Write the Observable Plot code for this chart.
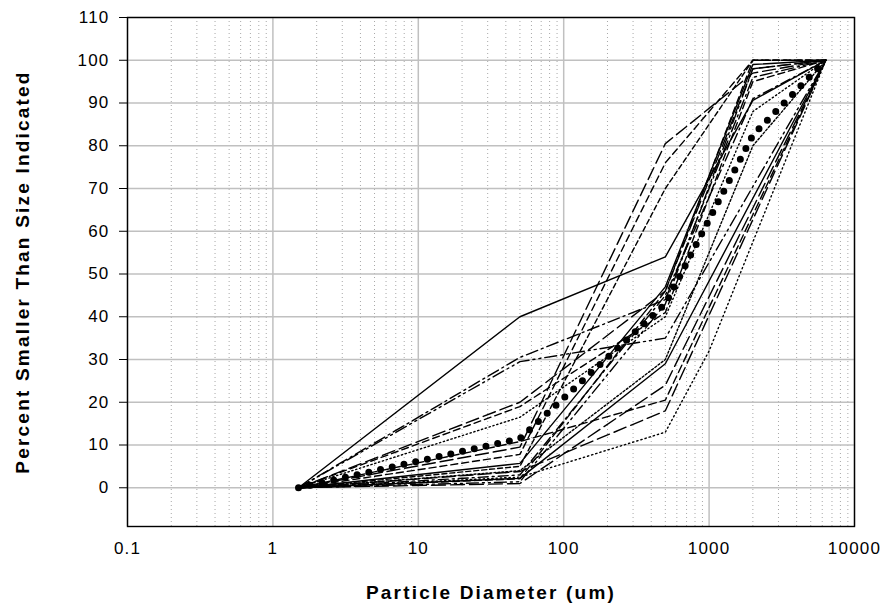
<!DOCTYPE html>
<html>
<head>
<meta charset="utf-8">
<script src="https://cdn.jsdelivr.net/npm/d3@7"></script>
<script src="https://cdn.jsdelivr.net/npm/@observablehq/plot@0.6"></script>
<style>
  html, body { margin: 0; padding: 0; background: #fff; }
  svg text { letter-spacing: 1.2px; }
  svg .title text { letter-spacing: 2.2px; }
</style>
</head>
<body>
<div id="chart"></div>
<script>
// ---- data ----
const sizes = [1.5, 50, 500, 1000, 2000, 6350];      // particle diameter (um); null = not measured
const sample01 = [0, 40.0, 54.0, null, 90.6, 100];
const sample02 = [0, 30.5, 44.0, null, 96.0, 100];
const sample03 = [0, 29.5, 35.0, null, null, 100];
const sample04 = [0, 20.0, 46.0, null, 98.0, 100];
const sample05 = [0, 19.0, 41.0, null, 95.0, 100];
const sample06 = [0, 16.5, 40.0, null, 88.0, 100];
const sample07 = [0, 9.5, 80.5, null, 97.0, 100];
const sample08 = [0, 7.8, 76.0, null, 100.0, 100];
const sample09 = [0, 5.7, 47.0, null, 99.0, 100];
const sample10 = [0, 5.0, 70.0, null, 100.0, 100];
const sample11 = [0, 2.2, 29.0, null, null, 100];
const sample12 = [0, 10.8, 20.5, null, null, 100];
const sample13 = [0, 3.8, 18.0, null, null, 100];
const sample14 = [0, 2.5, 13.0, 32.0, null, 100];
const sample15 = [0, 3.0, 45.0, null, 91.0, 100];
const sample16 = [0, 1.4, 43.0, null, 98.0, 100];
const sample17 = [0, 2.1, 46.0, null, 100.0, 100];
const sample18 = [0, 4.0, 30.0, null, 80.0, 100];
const sample19 = [0, 1.0, 24.0, null, null, 100];
const meanCurve = [0, 11.5, 43.0, null, 82.5, 100];

const xTicks = [0.1, 1, 10, 100, 1000, 10000];
const xTickLabels = ["0.1", "1", "10", "100", "1000", "10000"];
const yTicks = [0, 10, 20, 30, 40, 50, 60, 70, 80, 90, 100, 110];
const xTitle = "Particle Diameter (um)";
const yTitle = "Percent Smaller Than Size Indicated";

// ---- styles (kept apart from the data) ----
const samples = [sample01, sample02, sample03, sample04, sample05, sample06, sample07, sample08, sample09,
                 sample10, sample11, sample12, sample13, sample14, sample15, sample16, sample17, sample18, sample19];
const sampleDash = [null, "12,4,2,4", "12,4,2,4,2,4", "13,5", "7,4", "1.3,2.7", "13,5", "7,4", null,
                    "5,3", null, "8,4", "13,5", "1.3,3", "10,4,2,4", "12,4,2,4,2,4", "7,4", "2,2", "14,5"];

const toRows = vals => vals.map((v, i) => ({size: sizes[i], pct: v})).filter(r => r.pct != null);

const minorX = [];
for (const dec of [0.1, 1, 10, 100, 1000]) for (let k = 2; k <= 9; k++) minorX.push(+(dec * k).toPrecision(3));

const marks = [
  Plot.ruleX(minorX, {stroke: "#a8a8a8", strokeWidth: 1, strokeDasharray: "1,3"}),
  Plot.ruleX(xTicks, {stroke: "#c0c0c0", strokeWidth: 1.5}),
  Plot.ruleY(yTicks, {stroke: "#c0c0c0", strokeWidth: 1.5}),
];
samples.forEach((vals, s) => {
  marks.push(Plot.line(toRows(vals), {
    x: "size", y: "pct", stroke: "black", strokeWidth: 1.4,
    strokeDasharray: sampleDash[s] || undefined, strokeLinejoin: "miter"
  }));
});
marks.push(Plot.line(toRows(meanCurve), {x: "size", y: "pct", stroke: "black", strokeWidth: 7,
  strokeDasharray: "0,12", strokeLinecap: "round"}));
marks.push(Plot.frame({stroke: "black", strokeWidth: 1.4}));
marks.push(Plot.axisY({ticks: yTicks, tickSize: 8, tickPadding: 10, label: null, fontSize: 17}));
marks.push(Plot.axisX({ticks: xTicks, tickSize: 0, tickPadding: 15, label: null, fontSize: 17,
  tickFormat: d => xTickLabels[xTicks.indexOf(d)]}));
marks.push(Plot.text([xTitle], {frameAnchor: "bottom", dy: 66, lineAnchor: "middle", textAnchor: "middle",
  fontSize: 19, fontWeight: "bold", className: "title"}));
marks.push(Plot.text([yTitle], {frameAnchor: "left", dx: -105, rotate: -90, lineAnchor: "middle",
  textAnchor: "middle", fontSize: 19, fontWeight: "bold", className: "title"}));

const chart = Plot.plot({
  width: 886,
  height: 607,
  marginLeft: 127,
  marginRight: 32,
  marginTop: 17,
  marginBottom: 81,
  style: {fontFamily: "'Liberation Sans', Arial, sans-serif", color: "black", background: "white"},
  x: {type: "log", domain: [0.1, 10000]},
  y: {domain: [-9.06, 110]},
  marks
});
document.getElementById("chart").appendChild(chart);
</script>
</body>
</html>
